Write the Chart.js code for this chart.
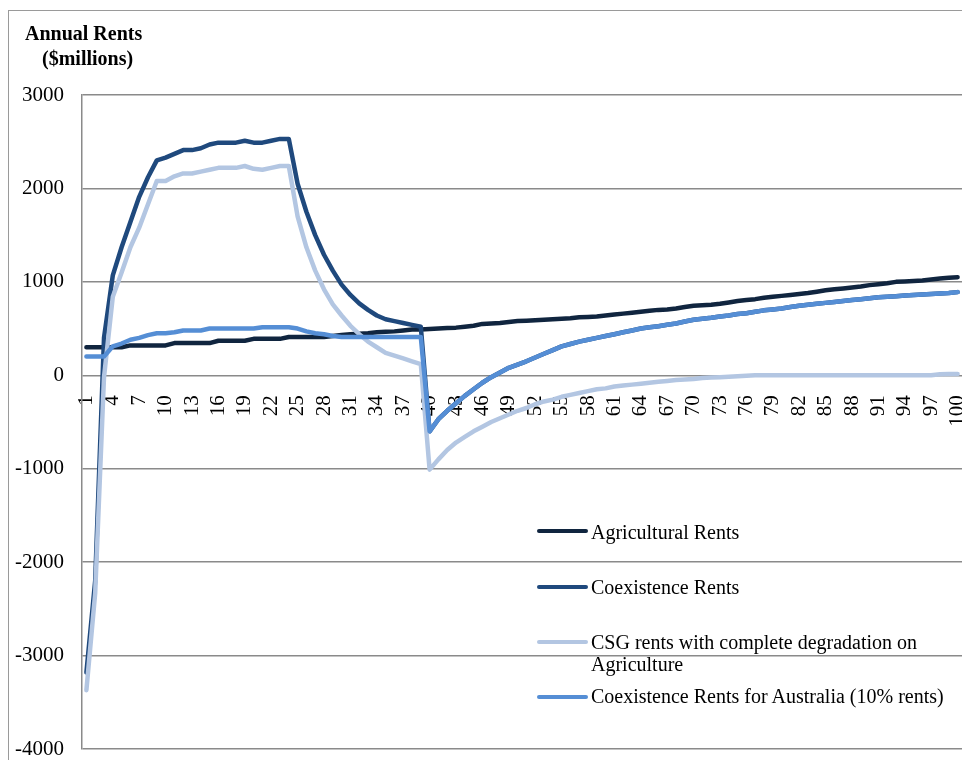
<!DOCTYPE html>
<html>
<head>
<meta charset="utf-8">
<title>Annual Rents</title>
<script src="https://cdn.jsdelivr.net/npm/chart.js@4.4.1/dist/chart.umd.min.js"></script>
<style>
    body { margin: 0; background: #fff; }
    #wrap { position: relative; width: 962px; height: 760px; overflow: hidden; font-family: 'Liberation Serif', 'Times New Roman', serif; color: #000; }
    #frame { position: absolute; left: 8px; top: 10px; width: 1000px; height: 800px; border-left: 1.5px solid #9a9a9a; border-top: 1.5px solid #9a9a9a; }
    #chart { position: absolute; left: 0; top: 0; }
    .title { position: absolute; font-weight: bold; font-size: 20px; line-height: 22px; white-space: nowrap; }
    .leg-line { position: absolute; left: 537px; width: 51px; height: 4px; border-radius: 2px; }
    .leg-text { position: absolute; left: 591px; font-size: 20px; line-height: 22.4px; white-space: nowrap; }
</style>
</head>
<body>
<div id="wrap">
    <div id="frame"></div>
    <canvas id="chart" width="962" height="760"></canvas>
    <div class="title" style="left:25px; top:22px;">Annual Rents</div>
    <div class="title" style="left:42px; top:47px;">($millions)</div>

    <div class="leg-line" style="top:529px; background:#10253f;"></div>
    <div class="leg-text" style="top:521px;">Agricultural Rents</div>
    <div class="leg-line" style="top:585px; background:#1f497d;"></div>
    <div class="leg-text" style="top:576px;">Coexistence Rents</div>
    <div class="leg-line" style="top:640px; background:#b3c6e2;"></div>
    <div class="leg-text" style="top:631px;">CSG rents with complete degradation on<br>Agriculture</div>
    <div class="leg-line" style="top:695px; background:#558ed5;"></div>
    <div class="leg-text" style="top:685px;">Coexistence Rents for Australia (10% rents)</div>
</div>

<script>
// ---- data ($ millions per year) ----
var years = Array.from({ length: 100 }, function (_, i) { return String(i + 1); });

var agriculturalRents = [
    300, 300, 300, 300, 300, 320, 320, 320, 320, 320,
    345, 345, 345, 345, 345, 370, 370, 370, 370, 390,
    390, 390, 390, 410, 410, 410, 410, 410, 420, 430,
    440, 445, 450, 460, 465, 470, 480, 490, 490, 495,
    500, 505, 510, 520, 530, 550, 555, 560, 570, 580,
    585, 590, 595, 600, 605, 610, 620, 625, 630, 640,
    650, 660, 670, 680, 690, 700, 705, 715, 730, 745,
    750, 755, 765, 780, 795, 805, 815, 830, 840, 850,
    860, 870, 880, 895, 910, 920, 930, 940, 950, 965,
    975, 985, 1000, 1005, 1010, 1015, 1025, 1035, 1045, 1050
];

var coexistenceRents = [
    -3180, -2200, 400, 1070, 1370, 1640, 1910, 2120, 2300, 2330,
    2370, 2410, 2410, 2430, 2470, 2490, 2490, 2490, 2510, 2490,
    2490, 2510, 2530, 2530, 2050, 1750, 1500, 1290, 1120, 970,
    860, 770, 700, 640, 600, 580, 560, 540, 520, -600,
    -470, -380, -300, -220, -150, -80, -20, 30, 80, 115,
    150, 190, 230, 270, 310, 335, 360, 380, 400, 420,
    440, 460, 480, 500, 515, 525, 540, 555, 575, 595,
    605, 615, 630, 640, 655, 665, 680, 695, 705, 715,
    730, 745, 755, 765, 775, 785, 795, 805, 815, 825,
    835, 840, 845, 855, 860, 865, 870, 875, 880, 890
];

var csgRents = [
    -3370, -2330, -20, 840, 1100, 1370, 1580, 1830, 2080, 2080,
    2130, 2160, 2160, 2180, 2200, 2220, 2220, 2220, 2240, 2210,
    2200, 2220, 2240, 2240, 1700, 1370, 1120, 920, 760, 640,
    530, 440, 360, 300, 240, 210, 180, 150, 120, -1010,
    -900, -800, -720, -660, -600, -550, -500, -460, -420, -380,
    -350, -310, -280, -260, -230, -210, -190, -170, -150, -140,
    -120, -110, -100, -90, -80, -70, -60, -50, -45, -40,
    -30, -25, -20, -15, -10, -5, 0, 0, 0, 0,
    0, 0, 0, 0, 0, 0, 0, 0, 0, 0,
    0, 0, 0, 0, 0, 0, 0, 10, 15, 15
];

var australiaRents = [
    200, 200, 200, 310, 340, 380, 400, 430, 450, 450,
    460, 480, 480, 480, 500, 500, 500, 500, 500, 500,
    515, 515, 515, 515, 500, 470, 450, 440, 420, 410,
    410, 410, 410, 410, 410, 410, 410, 410, 410, -600,
    -470, -380, -300, -220, -150, -80, -20, 30, 80, 115,
    150, 190, 230, 270, 310, 335, 360, 380, 400, 420,
    440, 460, 480, 500, 515, 525, 540, 555, 575, 595,
    605, 615, 630, 640, 655, 665, 680, 695, 705, 715,
    730, 745, 755, 765, 775, 785, 795, 805, 815, 825,
    835, 840, 845, 855, 860, 865, 870, 875, 880, 890
];

var yTicks = [3000, 2000, 1000, 0, -1000, -2000, -3000, -4000];

var gridColor = '#8a8a8a';
var numFont = { family: 'Liberation Serif', size: 21 };

function series(label, data, color, order) {
    return {
        label: label,
        data: data,
        borderColor: color,
        backgroundColor: color,
        borderWidth: 4.5,
        borderJoinStyle: 'round',
        borderCapStyle: 'round',
        pointRadius: 0,
        tension: 0,
        order: order
    };
}

// ---- Chart.js: line chart ----
new Chart(document.getElementById('chart'), {
    type: 'line',
    data: {
        labels: years,
        datasets: [
            series('Agricultural Rents', agriculturalRents, '#10253f', 3),
            series('Coexistence Rents', coexistenceRents, '#1f497d', 2),
            series('CSG rents with complete degradation on Agriculture', csgRents, '#b3c6e2', 1),
            series('Coexistence Rents for Australia (10% rents)', australiaRents, '#558ed5', 0)
        ]
    },
    options: {
        responsive: false,
        animation: false,
        layout: { padding: { top: 95, left: 0, right: 0, bottom: 11 } },
        plugins: {
            legend: { display: false },
            tooltip: { enabled: false }
        },
        scales: {
            x: {
                position: { y: 0 },
                offset: true,
                grid: { display: false },
                border: { display: false },
                ticks: {
                    autoSkip: false,
                    minRotation: 90,
                    maxRotation: 90,
                    padding: 12,
                    color: '#000',
                    font: numFont,
                    callback: function (v, i) { return i % 3 === 0 ? years[i] : ''; }
                },
                afterFit: function (s) { s.height = 0; s.paddingLeft = 0; s.paddingRight = 0; }
            },
            y: {
                min: -4000,
                max: 3000,
                afterBuildTicks: function (s) { s.ticks = yTicks.map(function (v) { return { value: v }; }); },
                grid: { color: gridColor, lineWidth: 1.5, drawTicks: false },
                border: { display: true, color: gridColor, width: 1.5 },
                ticks: {
                    padding: 18,
                    color: '#000',
                    font: numFont,
                    callback: function (v) { return String(v); }
                },
                afterFit: function (s) { s.width = 82; s.paddingTop = 0; s.paddingBottom = 0; }
            }
        }
    }
});
</script>
</body>
</html>
